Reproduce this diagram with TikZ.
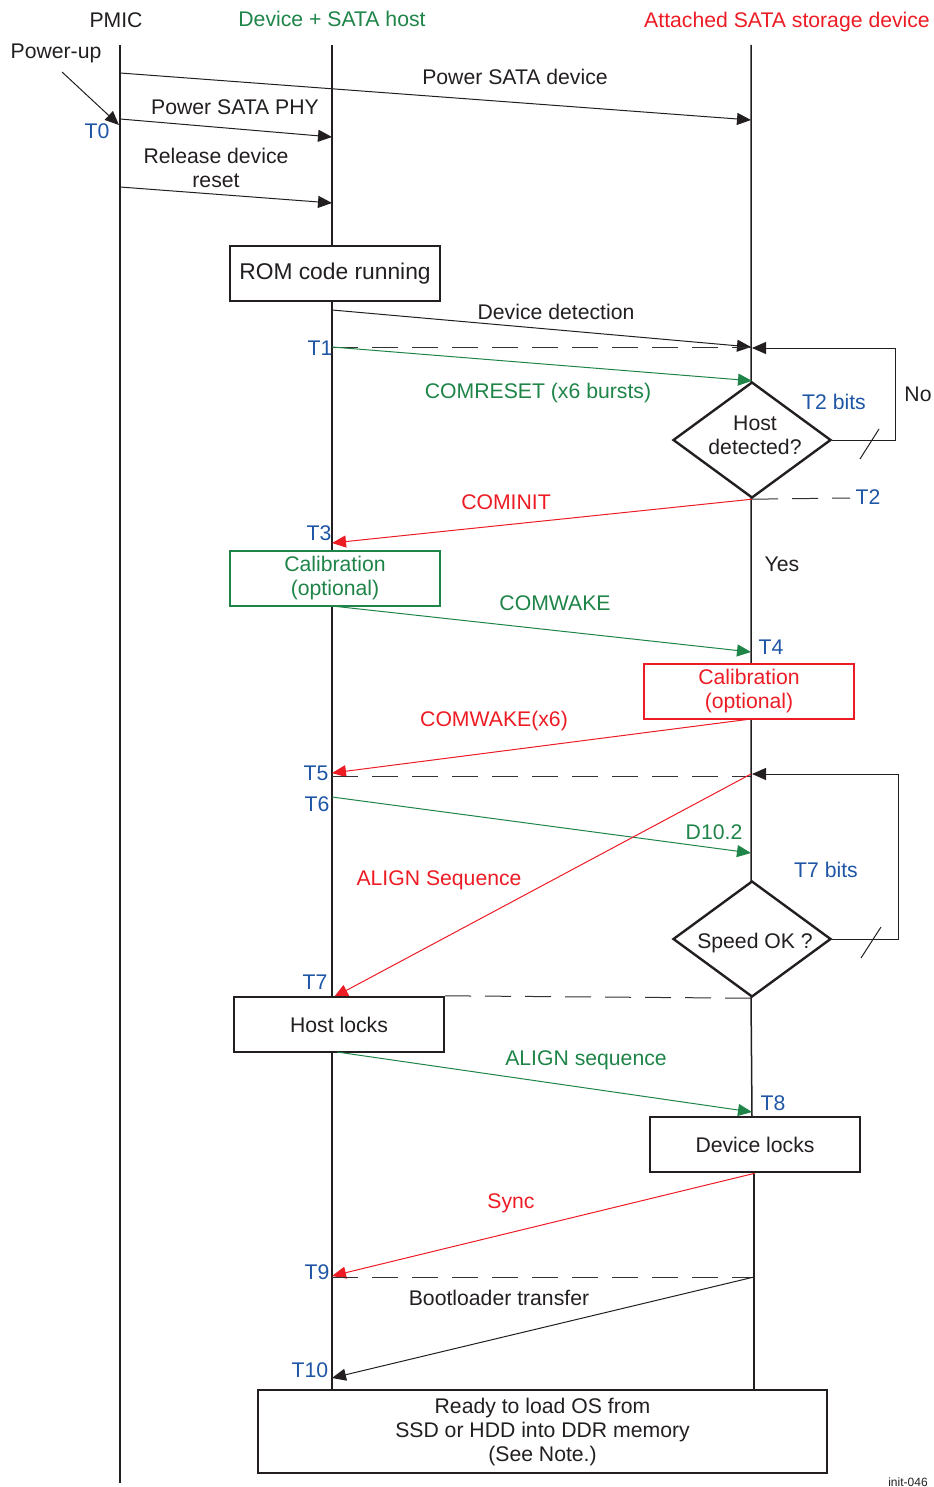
\documentclass[tikz,border=0pt]{standalone}
\usepackage{fontspec}
\setmainfont{Liberation Sans}
\usetikzlibrary{arrows.meta,shapes.geometric}
\definecolor{tigreen}{RGB}{30,132,72}
\definecolor{tired}{RGB}{237,28,36}
\definecolor{tiblue}{RGB}{30,85,165}
\definecolor{tiblack}{RGB}{35,31,32}
\definecolor{dashgray}{RGB}{50,50,50}
\begin{document}
\begin{tikzpicture}[x=0.5pt,y=-0.5pt,
  every node/.style={font=\fontsize{10.6}{12}\selectfont, text=tiblack, inner sep=0pt},
  life/.style={draw=tiblack, line width=0.75pt},
  tip/.style={-{Triangle[length=7pt,width=6pt]}},
  msg/.style={draw=tiblack, line width=0.5pt, tip},
  gmsg/.style={draw=tigreen, line width=0.5pt, tip},
  rmsg/.style={draw=tired, line width=0.5pt, tip},
  dashln/.style={draw=dashgray, line width=0.5pt, dash pattern=on 13pt off 7pt},
  tlab/.style={text=tiblue},
  glab/.style={text=tigreen},
  rlab/.style={text=tired},
  box/.style={draw=tiblack, line width=1.2pt, fill=white, minimum width=105pt, minimum height=27.5pt, align=center},
  dia/.style={draw=tiblack, line width=1.2pt, fill=white, diamond, minimum width=79pt, minimum height=58pt},
]
\useasboundingbox (0,0) rectangle (933,1487);

% headers
\node (hpmic) at (116,20) {PMIC};
\node[glab] (hhost) at (332,19) {Device + SATA host};
\node[rlab] (hdev) at (787,22) {Attached SATA storage device};

% lifelines
\coordinate (p0) at (120,45);
\coordinate (p1) at (120,1483);
\coordinate (h0) at (332,45);
\coordinate (h1) at (332,1390);
\coordinate (d0) at (751,45);
\coordinate (d1) at (752,1117);
\coordinate (d2) at (754,1172);
\coordinate (d3) at (754,1390);
\draw[life] (p0) -- (p1);
\draw[life] (h0) -- (h1);
\draw[life] (d0) -- (751,997) -- (d1);
\draw[life] (d2) -- (d3);

% power-up
\node (pu) at (56,53) {Power-up};
\coordinate (pus) at (62,72);
\coordinate (pue) at (119,125);
\draw[msg] (pus) -- (pue);
\node[tlab] (t0) at (97,131) {T0};

% PMIC messages
\coordinate (a1s) at (120,73);
\coordinate (a1e) at (751,120);
\draw[msg] (a1s) -- (a1e);
\node (l1) at (515,77) {Power SATA device};
\coordinate (a2s) at (120,119);
\coordinate (a2e) at (332,137);
\draw[msg] (a2s) -- (a2e);
\node (l2) at (235,107) {Power SATA PHY};
\coordinate (a3s) at (120,187);
\coordinate (a3e) at (332,203);
\draw[msg] (a3s) -- (a3e);
\node[align=center] (l3) at (216,168) {Release device\\reset};

% ROM code
\node[box, font=\fontsize{11.4}{13}\selectfont] (rom) at (335,273.5) {ROM code running};

% device detection
\coordinate (a4s) at (332,310);
\coordinate (a4e) at (751,347);
\draw[msg] (a4s) -- (a4e);
\node (l4) at (556,312) {Device detection};
\node[tlab] (t1) at (320,348) {T1};
\coordinate (t1h) at (332,347);
\draw[dashln] (t1h) -- (a4e);

% COMRESET
\node[dia] (dia1) at (752,440) {};
\node[align=center] (dia1t) at (755,435) {Host\\detected?};
\draw[gmsg] (t1h) -- (dia1.north);
\node[glab] (l5) at (538,393) {COMRESET (x6 bursts)};

% loop 1
\coordinate (lp1a) at (895,440);
\coordinate (lp1b) at (895,348);
\coordinate (lp1e) at (752,348);
\draw[msg] (dia1.east) -- (lp1a) -- (lp1b) -- (lp1e);
\draw[draw=tiblack, line width=0.5pt] (860,459) -- (879,429);
\node[tlab] (t2b) at (834,402) {T2 bits};
\node (no) at (918,394) {No};

% T2
\coordinate (t2e) at (850,498);
\draw[dashln] (dia1.south) -- (t2e);
\node[tlab] (t2) at (868,497) {T2};

% COMINIT
\coordinate (a6e) at (332,543);
\draw[rmsg] (dia1.south) -- (a6e);
\node[rlab] (l6) at (506,502) {COMINIT};
\node[tlab] (t3) at (319,533) {T3};
\node (yes) at (782,564) {Yes};

% host calibration
\node[box, draw=tigreen, line width=1pt, text=tigreen] (hcal) at (335,578.5) {Calibration\\(optional)};

% COMWAKE
\coordinate (a7s) at (332,606);
\coordinate (a7e) at (751,652);
\draw[gmsg] (a7s) -- (a7e);
\node[glab] (l7) at (555,603) {COMWAKE};
\node[tlab] (t4) at (771,647) {T4};

% device calibration
\node[box, draw=tired, line width=1pt, text=tired] (dcal) at (749,691.5) {Calibration\\(optional)};

% COMWAKE(x6)
\coordinate (a8s) at (751,719);
\coordinate (a8e) at (332,773);
\draw[rmsg] (a8s) -- (a8e);
\node[rlab] (l8) at (494,721) {COMWAKE(x6)};
\node[tlab] (t5) at (316,773) {T5};
\coordinate (t5h) at (332,776);
\coordinate (t5d) at (751,776);
\draw[dashln] (t5h) -- (t5d);

% speed diamond
\node[dia] (dia2) at (752,939) {};
\node (dia2t) at (755,943) {Speed OK ?};

% loop 2
\coordinate (lp2a) at (898,939);
\coordinate (lp2b) at (898,774);
\coordinate (lp2e) at (752,774);
\draw[msg] (dia2.east) -- (lp2a) -- (lp2b) -- (lp2e);
\draw[draw=tiblack, line width=0.5pt] (861,958) -- (881,927);
\node[tlab] (t7b) at (826,870) {T7 bits};

% D10.2
\node[tlab] (t6) at (317,804) {T6};
\coordinate (a9s) at (332,797);
\coordinate (a9e) at (751,853);
\draw[gmsg] (a9s) -- (a9e);
\node[glab] (l9) at (714,832) {D10.2};

% ALIGN Sequence
\coordinate (a10s) at (751,774);
\coordinate (a10e) at (334,997);
\draw[rmsg] (a10s) -- (a10e);
\node[rlab] (l10) at (439,880) {ALIGN Sequence};
\node[tlab] (t7) at (315,982) {T7};

% host locks
\node[box] (hl) at (339,1024.5) {Host locks};
\draw[dashln] (hl.north east) -- (dia2.south);

% ALIGN sequence
\coordinate (a11s) at (337,1052);
\coordinate (a11e) at (752,1112);
\draw[gmsg] (a11s) -- (a11e);
\node[glab] (l11) at (586,1060) {ALIGN sequence};
\node[tlab] (t8) at (773,1103) {T8};

% device locks
\node[box] (dl) at (755,1144.5) {Device locks};

% Sync
\coordinate (a12e) at (332,1276);
\draw[rmsg] (dl.south) -- (a12e);
\node[rlab] (l12) at (511,1203) {Sync};
\node[tlab] (t9) at (317,1272) {T9};
\coordinate (t9h) at (332,1277);
\coordinate (t9d) at (754,1277);
\draw[dashln] (t9h) -- (t9d);

% bootloader
\coordinate (a13e) at (332,1378);
\draw[msg] (t9d) -- (a13e);
\node (l13) at (499,1298) {Bootloader transfer};
\node[tlab] (t10) at (310,1370) {T10};

% final box
\node[box, minimum width=284.5pt, minimum height=41.5pt] (fin) at (542.5,1431.5) {Ready to load OS from\\SSD or HDD into DDR memory\\(See Note.)};

\node[font=\fontsize{6}{7}\selectfont] (note) at (908,1482) {init-046};
\end{tikzpicture}
\end{document}
